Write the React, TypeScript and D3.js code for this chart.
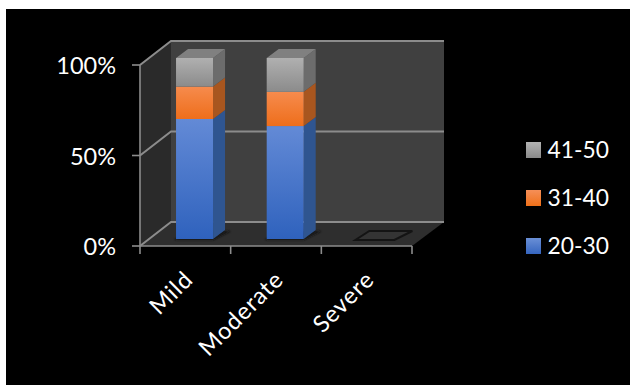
import React from "react";
import * as d3 from "d3";

const categories = ["Mild", "Moderate", "Severe"];
const seriesNames = ["20-30", "31-40", "41-50"];
const values2030 = [66.3, 62.4, 0];
const values3140 = [17.9, 18.9, 0];
const values4150 = [15.8, 18.7, 0];
const yTicks = [0, 50, 100];

const faceColors: Record<string, { top: string; bottom: string; side: string; legendTop: string; legendBottom: string }> = {
  "20-30": { top: "#638ad6", bottom: "#2f62bd", side: "#2f5590", legendTop: "#6a8fd6", legendBottom: "#3565bf" },
  "31-40": { top: "#f68b4d", bottom: "#ee6e1b", side: "#a8561f", legendTop: "#f58f58", legendBottom: "#ef7019" },
  "41-50": { top: "#b0b0b0", bottom: "#8b8b8b", side: "#6c6c6c", legendTop: "#b3b3b3", legendBottom: "#8a8a8a" },
};

const FONT = "Lato, 'Open Sans', sans-serif";
const FONT_SIZE = 23.5;
const AXIS = "#8c8c8c";

// Oblique projection: floor depth offsets from the front edge to the back wall
const wallDx = 31;
const wallDy = -24;
const plotFrontLeft = 140;
const plotFrontRight = 412;
const plotFrontBottom = 246;
const plotFrontTop = 65;

// Bars sit in the middle of the floor depth
const barOffsetX = 9.2;
const barOffsetY = -7;
const barDepthX = 12;
const barDepthY = -9;
const barWidth = 37;

const x = d3.scaleBand<string>().domain(categories).range([plotFrontLeft, plotFrontRight]);
const y = d3.scaleLinear().domain([0, 100]).range([plotFrontBottom, plotFrontTop]);

const stackData = categories.map((c, i) => ({
  category: c,
  "20-30": values2030[i],
  "31-40": values3140[i],
  "41-50": values4150[i],
}));
const stacked = d3.stack<any>().keys(seriesNames)(stackData);

const poly = (pts: [number, number][]) => pts.map((p) => p.join(",")).join(" ");

export default function App() {
  const barX = (c: string) => (x(c) as number) + (x.bandwidth() - barWidth) / 2 + barOffsetX;
  return (
    <svg width={630} height={385} style={{ position: "fixed", left: 0, top: 0, background: "#fff" }}>
      <defs>
        {seriesNames.map((s) => (
          <React.Fragment key={s}>
            <linearGradient id={`front-${s}`} x1="0" y1="0" x2="0" y2="1">
              <stop offset="0" stopColor={faceColors[s].top} />
              <stop offset="1" stopColor={faceColors[s].bottom} />
            </linearGradient>
            <linearGradient id={`legend-${s}`} x1="0" y1="0" x2="0" y2="1">
              <stop offset="0" stopColor={faceColors[s].legendTop} />
              <stop offset="1" stopColor={faceColors[s].legendBottom} />
            </linearGradient>
          </React.Fragment>
        ))}
        <filter id="soft" x="-20%" y="-40%" width="140%" height="180%">
          <feGaussianBlur stdDeviation="1.2" />
        </filter>
      </defs>
      <rect x={6} y={9} width={624} height={376} fill="#000" />

      {/* Side wall, back wall and floor */}
      <polygon
        points={poly([
          [plotFrontLeft, y(100)],
          [plotFrontLeft + wallDx, y(100) + wallDy],
          [plotFrontLeft + wallDx, y(0) + wallDy],
          [plotFrontLeft, y(0)],
        ])}
        fill="#2a2a2a"
      />
      <rect
        x={plotFrontLeft + wallDx}
        y={y(100) + wallDy}
        width={plotFrontRight - plotFrontLeft + 1}
        height={y(0) - y(100)}
        fill="#404040"
      />
      <polygon
        points={poly([
          [plotFrontLeft, y(0)],
          [plotFrontLeft + wallDx, y(0) + wallDy],
          [plotFrontRight + wallDx + 1, y(0) + wallDy],
          [plotFrontRight, y(0)],
        ])}
        fill="#2e2e2e"
      />

      {/* Gridlines across the walls */}
      {yTicks.map((t) => (
        <polyline
          key={t}
          points={poly([
            [plotFrontLeft, y(t)],
            [plotFrontLeft + wallDx, y(t) + wallDy],
            [plotFrontRight + wallDx + 1, y(t) + wallDy],
          ])}
          fill="none"
          stroke={AXIS}
          strokeWidth={2}
        />
      ))}

      {/* Value axis */}
      <line x1={plotFrontLeft} x2={plotFrontLeft} y1={y(100)} y2={y(0)} stroke={AXIS} strokeWidth={1.6} />
      {yTicks.map((t) => (
        <g key={t}>
          <line x1={plotFrontLeft - 8} x2={plotFrontLeft} y1={y(t)} y2={y(t)} stroke={AXIS} strokeWidth={1.6} />
          <text x={116} y={y(t) + 1.5} dy="0.34em" textAnchor="end" fill="#fff" fontFamily={FONT} fontSize={FONT_SIZE}>
            {t}%
          </text>
        </g>
      ))}

      {/* Category axis */}
      <line x1={plotFrontLeft} x2={plotFrontRight} y1={y(0)} y2={y(0)} stroke={AXIS} strokeWidth={1.6} />
      {[...categories.map((c) => x(c) as number), plotFrontRight].map((px) => (
        <line key={px} x1={px} x2={px} y1={y(0)} y2={y(0) + 8} stroke={AXIS} strokeWidth={1.6} />
      ))}
      {categories.map((c) => {
        const ax = (x(c) as number) + x.bandwidth() / 2 + 9;
        return (
          <text
            key={c}
            transform={`translate(${ax},${y(0) + 35}) rotate(-45)`}
            textAnchor="end"
            fill="#fff"
            fontFamily={FONT}
            fontSize={FONT_SIZE}
            letterSpacing={0.9}
          >
            {c}
          </text>
        );
      })}

      {/* Contact shadows on the floor */}
      {categories.map((c) => {
        const bx = barX(c);
        const by = y(0) + barOffsetY;
        const pts = poly([
          [bx - 2, by + 1],
          [bx + barWidth, by + 1],
          [bx + barWidth + barDepthX + 6, by + barDepthY + 1],
          [bx + barDepthX, by + barDepthY + 1],
        ]);
        return c === "Severe" ? (
          <polygon key={c} points={pts} fill="#343434" stroke="#141414" strokeWidth={2} />
        ) : (
          <polygon key={c} points={pts} fill="#141414" filter="url(#soft)" />
        );
      })}

      {/* Stacked 3-D columns, drawn bottom segment first */}
      {stacked.map((layer) => {
        const key = layer.key;
        return layer.map((d, i) => {
          const [v0, v1] = d;
          if (v1 - v0 <= 0) return null;
          const bx = barX(categories[i]);
          const yb = y(v0) + barOffsetY;
          const yt = y(v1) + barOffsetY;
          return (
            <g key={`${key}-${i}`}>
              <polygon
                points={poly([
                  [bx + barWidth, yb],
                  [bx + barWidth + barDepthX, yb + barDepthY],
                  [bx + barWidth + barDepthX, yt + barDepthY],
                  [bx + barWidth, yt],
                ])}
                fill={faceColors[key].side}
              />
              <rect x={bx} y={yt} width={barWidth} height={yb - yt} fill={`url(#front-${key})`} />
              {key === "41-50" && (
                <polygon
                  points={poly([
                    [bx, yt],
                    [bx + barDepthX, yt + barDepthY],
                    [bx + barWidth + barDepthX, yt + barDepthY],
                    [bx + barWidth, yt],
                  ])}
                  fill="#808080"
                />
              )}
            </g>
          );
        });
      })}

      {/* Legend, top entry is the last series */}
      {[...seriesNames].reverse().map((s, i) => (
        <g key={s} transform={`translate(526,${142 + i * 48})`}>
          <rect width={15} height={16} fill={`url(#legend-${s})`} />
          <text x={21.5} y={8.5} dy="0.34em" fill="#fff" fontFamily={FONT} fontSize={FONT_SIZE - 0.7}>
            {s}
          </text>
        </g>
      ))}
    </svg>
  );
}
